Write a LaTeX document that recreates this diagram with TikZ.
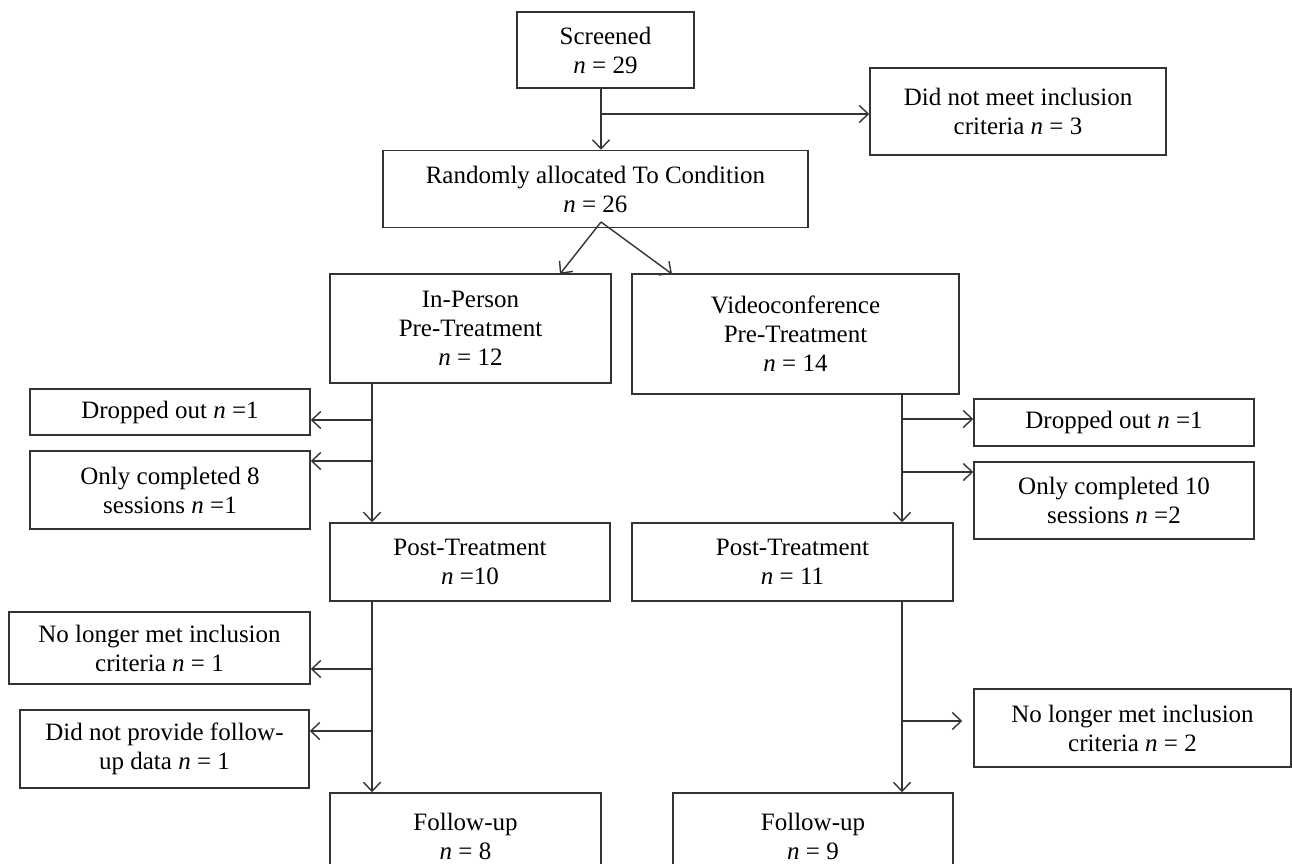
\documentclass[tikz,border=0pt]{standalone}
\usepackage{fontspec}
\setmainfont{Liberation Serif}
\usetikzlibrary{arrows.meta}
\begin{document}
\begin{tikzpicture}[x=1pt,y=-1pt,
  box/.style={draw=black!80, line width=1.5pt, rectangle, align=center, inner sep=0pt,
    font=\fontsize{25}{29}\selectfont},
  conn/.style={draw=black!80, line width=1.4pt},
  arr/.style={conn, -{Straight Barb[length=9pt,width=17pt,line width=1.4pt]}}]
\useasboundingbox (0,0) rectangle (1292,864);
\clip (0,0) rectangle (1292,864);
\fill[white] (0,0) rectangle (1292,864);
% nodes: center x, center y, width, height
\node[box, minimum width=177pt, minimum height=76pt] (scr) at (605.5,50) {Screened\\\textit{n} = 29};
\node[box, minimum width=296pt, minimum height=87pt] (excl) at (1018,111.5) {Did not meet inclusion\\criteria \textit{n} = 3};
\node[box, minimum width=425pt, minimum height=77pt] (rand) at (595.4,189) {Randomly allocated To Condition\\\textit{n} = 26};
\node[box, minimum width=281pt, minimum height=109pt] (ip) at (470.5,328.5) {In-Person\\Pre-Treatment\\\textit{n} = 12};
\node[box, minimum width=327pt, minimum height=120pt] (vc) at (795.5,334) {Videoconference\\Pre-Treatment\\\textit{n} = 14};
\node[box, minimum width=280pt, minimum height=46pt] (dol) at (170,412) {Dropped out \textit{n} =1};
\node[box, minimum width=280pt, minimum height=78pt] (ocl) at (170,490) {Only completed 8\\sessions \textit{n} =1};
\node[box, minimum width=280pt, minimum height=78pt] (ptl) at (470,562) {Post-Treatment\\\textit{n} =10};
\node[box, minimum width=280pt, minimum height=47pt] (dor) at (1114,422.5) {Dropped out \textit{n} =1};
\node[box, minimum width=280pt, minimum height=77pt] (ocr) at (1114,500.5) {Only completed 10\\sessions \textit{n} =2};
\node[box, minimum width=321pt, minimum height=78pt] (ptr) at (792.5,562) {Post-Treatment\\\textit{n} = 11};
\node[box, minimum width=301pt, minimum height=72pt] (nll) at (159.5,648) {No longer met inclusion\\criteria \textit{n} = 1};
\node[box, minimum width=289pt, minimum height=78pt] (dnp) at (164.5,749) {Did not provide follow-\\up data \textit{n} = 1};
\node[box, minimum width=271pt, minimum height=87pt] (ful) at (465.5,836.5) {Follow-up\\\textit{n} = 8};
\node[box, minimum width=280pt, minimum height=87pt] (fur) at (813,836.5) {Follow-up\\\textit{n} = 9};
\node[box, minimum width=317pt, minimum height=78pt] (nlr) at (1132.5,728) {No longer met inclusion\\criteria \textit{n} = 2};
% branch points
\coordinate (t1) at (601,114);
\coordinate (rs) at (601,222);
\coordinate (ipin) at (560,274);
\coordinate (vcin) at (672,274);
\coordinate (b1) at (372,420);
\coordinate (b2) at (372,461);
\coordinate (b3) at (902,419);
\coordinate (b4) at (902,472);
\coordinate (b5) at (372,669);
\coordinate (b6) at (372,731);
\coordinate (b7) at (902,721);
% connectors
\draw[conn] (scr.south -| t1) -- (t1);
\draw[arr] (t1) -- (t1 |- rand.north);
\draw[arr] (t1) -- (excl.west |- t1);
\draw[arr] (rs) -- (ipin);
\draw[arr] (rs) -- (vcin);
\draw[arr] (ip.south -| b1) -- (ptl.north -| b1);
\draw[arr] (b1) -- (dol.east |- b1);
\draw[arr] (b2) -- (ocl.east |- b2);
\draw[arr] (vc.south -| b3) -- (ptr.north -| b3);
\draw[arr] (b3) -- (dor.west |- b3);
\draw[arr] (b4) -- (ocr.west |- b4);
\draw[arr] (ptl.south -| b5) -- (ful.north -| b5);
\draw[arr] (b5) -- (nll.east |- b5);
\draw[arr] (b6) -- (dnp.east |- b6);
\draw[arr] (ptr.south -| b7) -- (fur.north -| b7);
\draw[arr, shorten >=11pt] (b7) -- (nlr.west |- b7);
\end{tikzpicture}
\end{document}
